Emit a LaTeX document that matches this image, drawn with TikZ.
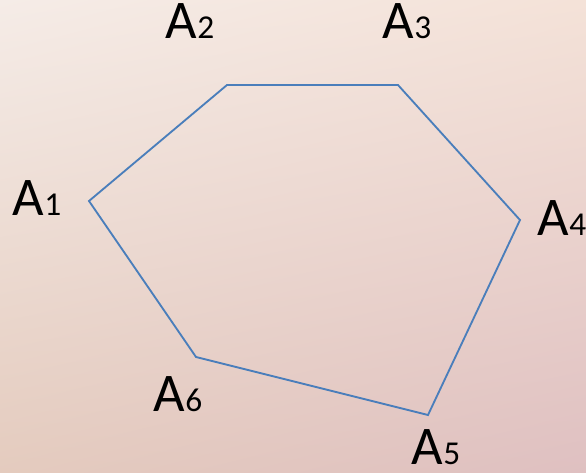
\documentclass[tikz,border=0pt]{standalone}
\usepackage{fontspec}
\setmainfont{Carlito}
\usepackage{xcolor}
\usetikzlibrary{positioning, shadings}

\definecolor{bgUL}{HTML}{F5ECE7}
\definecolor{bgUR}{HTML}{F4E2D8}
\definecolor{bgLL}{HTML}{E4CBBE}
\definecolor{bgLR}{HTML}{DFC0C1}
\definecolor{edgeblue}{HTML}{4A7EBB}

% vertex name: big A, small index on the same baseline
\newcommand{\vname}[1]{{\fontsize{31pt}{32pt}\selectfont A}{\fontsize{19pt}{20pt}\selectfont #1}}

\begin{document}
\begin{tikzpicture}[
  x=0.02cm, y=-0.02cm,
  edge/.style={draw=edgeblue, line width=1.05pt, line join=miter},
  lbl/.style={anchor=base, inner sep=0pt, text=black}]
  % background
  \shade[upper left=bgUL, upper right=bgUR, lower left=bgLL, lower right=bgLR]
    (0,0) rectangle (586,473);
  \useasboundingbox (0,0) rectangle (586,473);
  % vertices
  \coordinate (v1) at (89,201);
  \coordinate (v2) at (227,85);
  \coordinate (v3) at (398,85);
  \coordinate (v4) at (520,220);
  \coordinate (v5) at (428,415);
  \coordinate (v6) at (196,357);
  \draw[edge] (v1) -- (v2) -- (v3) -- (v4) -- (v5) -- (v6) -- cycle;
  % labels
  \node[lbl] (a1) at (37,216) {\vname{1}};
  \node[lbl] (a2) at (190,39) {\vname{2}};
  \node[lbl] (a3) at (407,39) {\vname{3}};
  \node[lbl] (a4) at (562,236) {\vname{4}};
  \node[lbl] (a5) at (436,465) {\vname{5}};
  \node[lbl] (a6) at (178,412) {\vname{6}};
\end{tikzpicture}
\end{document}
